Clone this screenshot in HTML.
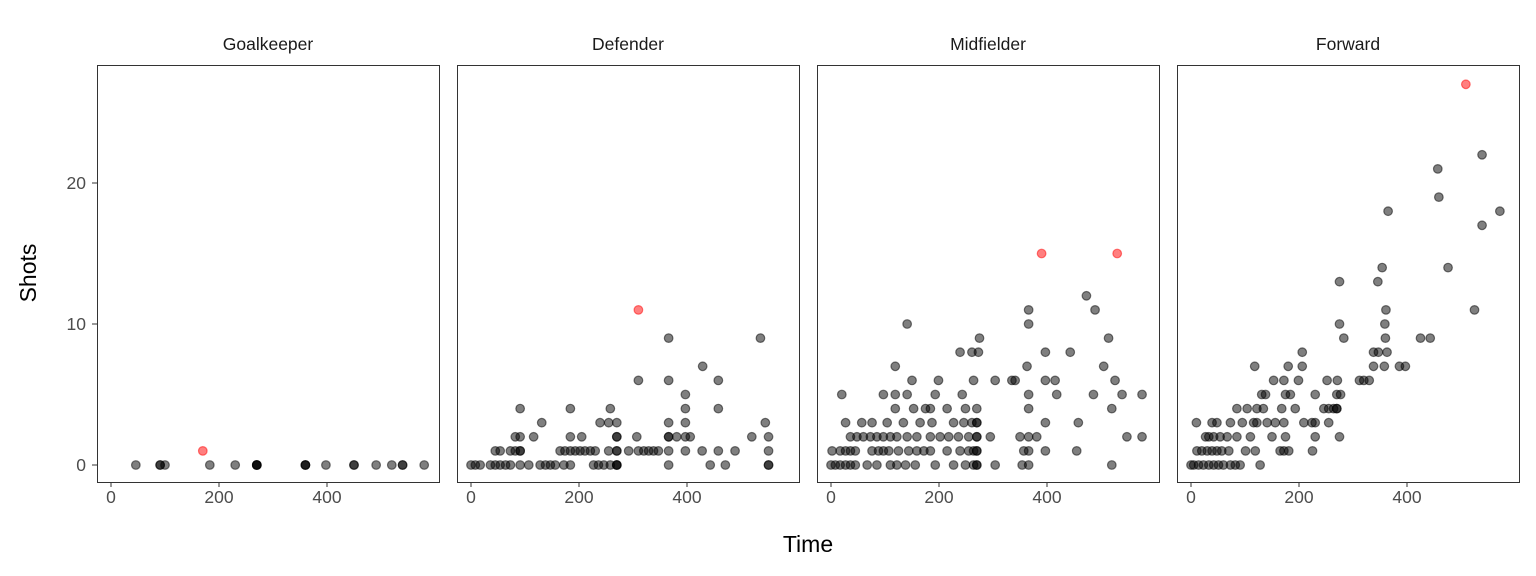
<!DOCTYPE html>
<html><head><meta charset="utf-8"><style>
body{margin:0;background:#fff;}
svg{display:block;font-family:"Liberation Sans",sans-serif;}
</style></head><body>
<svg id="chart" width="1536" height="576" xmlns="http://www.w3.org/2000/svg"></svg>
<script>
const panels = ["Goalkeeper","Defender","Midfielder","Forward"];
const xTicks = [0,200,400];
const yTicks = [0,10,20];
const gkTime = [46,91,91,100,183,230,270,270,270,270,360,360,360,398,450,450,491,520,540,540,580];
const gkShots = [0,0,0,0,0,0,0,0,0,0,0,0,0,0,0,0,0,0,0,0,0];
const defTime = [0,8,17,36,45,54,64,73,91,107,128,138,147,156,172,184,227,236,246,258,270,270,270,366,443,471,551,551,
45,54,73,82,91,91,165,174,184,193,202,211,221,230,255,270,270,292,310,320,329,338,347,366,397,428,458,489,551,
82,91,116,184,205,270,270,307,366,366,381,397,406,520,551,
131,239,255,270,366,397,545,
91,184,258,397,458,397,310,366,458,429,366,536];
const defShots = [0,0,0,0,0,0,0,0,0,0,0,0,0,0,0,0,0,0,0,0,0,0,0,0,0,0,0,0,
1,1,1,1,1,1,1,1,1,1,1,1,1,1,1,1,1,1,1,1,1,1,1,1,1,1,1,1,1,
2,2,2,2,2,2,2,2,2,2,2,2,2,2,2,
3,3,3,3,3,3,3,
4,4,4,4,4,5,6,6,6,7,9,9];
const midTime = [0,8,17,27,36,45,67,85,110,122,138,156,193,227,249,264,270,270,304,354,366,520,
2,17,27,36,45,76,88,97,107,125,144,159,172,184,215,239,255,264,270,270,357,366,397,455,
36,48,60,73,85,97,110,122,141,159,184,202,218,236,255,270,270,295,350,366,381,548,576,
27,57,76,104,134,165,187,227,246,261,270,270,397,458,
119,153,175,184,215,249,270,366,520,
20,97,119,141,193,243,366,418,486,539,576,
150,199,264,304,335,341,397,415,526,
119,363,505,239,261,273,397,443,275,514,141,366,366,489,473];
const midShots = [0,0,0,0,0,0,0,0,0,0,0,0,0,0,0,0,0,0,0,0,0,0,
1,1,1,1,1,1,1,1,1,1,1,1,1,1,1,1,1,1,1,1,1,1,1,1,
2,2,2,2,2,2,2,2,2,2,2,2,2,2,2,2,2,2,2,2,2,2,2,
3,3,3,3,3,3,3,3,3,3,3,3,3,3,
4,4,4,4,4,4,4,4,4,
5,5,5,5,5,5,5,5,5,5,5,
6,6,6,6,6,6,6,6,6,
7,7,7,8,8,8,8,8,9,9,10,10,11,11,12];
const fwdTime = [0,5,14,23,33,42,51,60,73,82,91,128,
11,20,30,39,48,57,70,101,119,165,172,181,225,
27,33,42,54,67,85,110,150,175,230,275,
10,39,48,73,95,116,122,141,156,172,209,224,230,255,
85,104,122,134,168,193,246,255,264,270,270,
131,138,175,184,230,270,277,
153,172,199,252,271,312,320,330,
118,180,206,338,358,386,397,
206,338,347,363,
283,360,425,443,275,359,361,525,275,346,354,476,539,365,572,459,457,539];
const fwdShots = [0,0,0,0,0,0,0,0,0,0,0,0,
1,1,1,1,1,1,1,1,1,1,1,1,1,
2,2,2,2,2,2,2,2,2,2,2,
3,3,3,3,3,3,3,3,3,3,3,3,3,3,
4,4,4,4,4,4,4,4,4,4,4,
5,5,5,5,5,5,5,
6,6,6,6,6,6,6,6,
7,7,7,7,7,7,7,
8,8,8,8,
9,9,9,9,10,10,11,11,13,13,14,14,17,18,18,19,21,22];
const redTime = [[170],[310],[390,530],[509]];
const redShots = [[1],[11],[15,15],[27]];
const times = [gkTime,defTime,midTime,fwdTime];
const shots = [gkShots,defShots,midShots,fwdShots];

const NS="http://www.w3.org/2000/svg";
const svg=document.getElementById('chart');
const panelX=[97,457,817,1177], PW=342, PT=65, PB=482;
function yS(v){return 465-v*14.1;}
function xS(p,v){return panelX[p]+14+v*0.54;}
function mk(tag,attrs,parent){const e=document.createElementNS(NS,tag);for(const k in attrs)e.setAttribute(k,attrs[k]);(parent||svg).appendChild(e);return e;}

yTicks.forEach(v=>{
  const t=mk('text',{x:86,y:yS(v)+6,'text-anchor':'end','font-size':17.5,fill:'#4d4d4d'});
  
  
  t.textContent=v;
  const l=mk('line',{x1:92,x2:97,y1:yS(v),y2:yS(v),stroke:'#333','stroke-width':1});
  
  
});

panels.forEach((name,p)=>{
  const g=mk('g',{});
  
  
  const st=mk('text',{x:panelX[p]+PW/2,y:50,'text-anchor':'middle','font-size':17.5,fill:'#1a1a1a'},g);
  
  
  st.textContent=name;
  const r=mk('rect',{x:panelX[p]+0.5,y:PT+0.5,width:PW,height:PB-PT,fill:'#fff',stroke:'#333','stroke-width':1},g);
  
  
  xTicks.forEach(v=>{
    const l=mk('line',{x1:xS(p,v),x2:xS(p,v),y1:PB+0.5,y2:PB+5,stroke:'#333'},g);
    
    
    const t=mk('text',{x:xS(p,v),y:503,'text-anchor':'middle','font-size':17.5,fill:'#4d4d4d'},g);
    
    
    t.textContent=v;
  });
  times[p].forEach((tv,i)=>{
    const c=mk('circle',{cx:xS(p,tv),cy:yS(shots[p][i]),r:4.3,fill:'#000','fill-opacity':0.5,stroke:'#000','stroke-opacity':0.5,'stroke-width':1.2},g);
    
    
  });
  redTime[p].forEach((tv,i)=>{
    const c=mk('circle',{cx:xS(p,tv),cy:yS(redShots[p][i]),r:4.3,fill:'#ff0000','fill-opacity':0.5,stroke:'#ff0000','stroke-opacity':0.5,'stroke-width':1.2},g);
    
    
  });
});
const xt=mk('text',{x:808,y:552,'text-anchor':'middle','font-size':23,fill:'#000'});


xt.textContent='Time';
const yt=mk('text',{x:36,y:273,'text-anchor':'middle','font-size':23,fill:'#000',transform:'rotate(-90 36 273)'});


yt.textContent='Shots';
</script>
</body></html>
